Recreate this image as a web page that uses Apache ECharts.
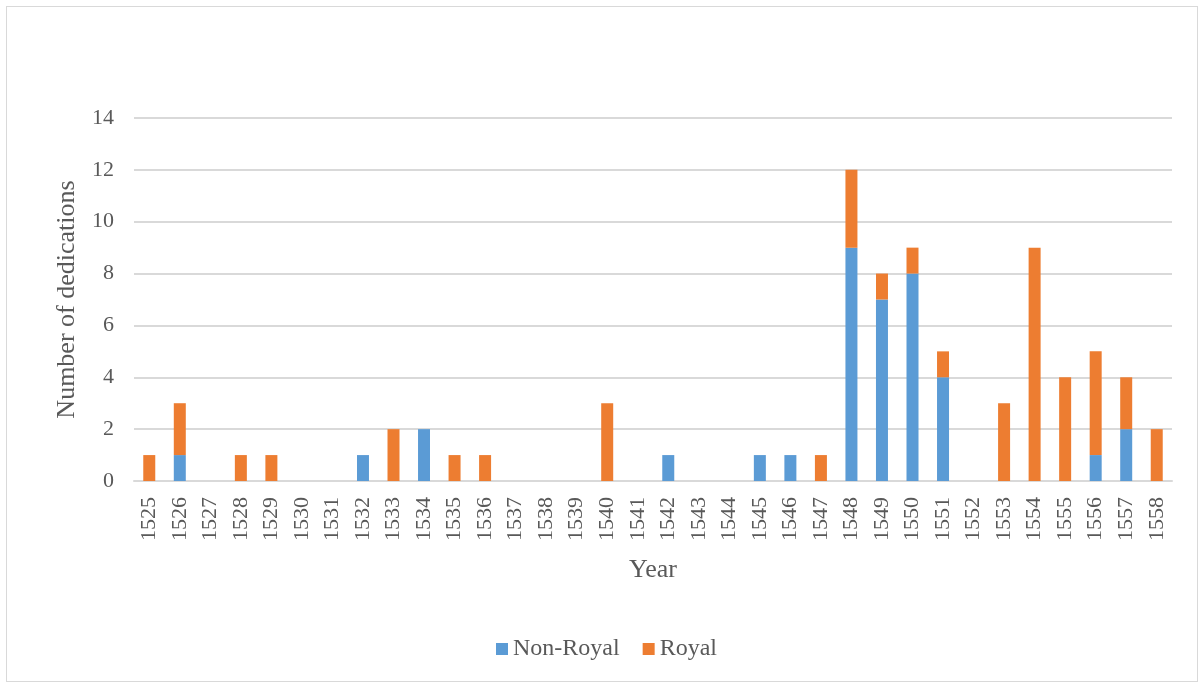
<!DOCTYPE html>
<html>
<head>
<meta charset="utf-8">
<script src="https://cdn.jsdelivr.net/npm/echarts@6/dist/echarts.min.js"></script>
<style>
  html, body { margin: 0; padding: 0; background: #fff; }
  #frame { position: absolute; left: 6px; top: 6px; width: 1192px; height: 676px; border: 1px solid #d9d9d9; box-sizing: border-box; }
  #chart { position: absolute; left: 0; top: 0; width: 1201px; height: 684px; }
</style>
</head>
<body>
<div id="frame"></div>
<div id="chart"></div>
<script>
// Dedications per year, split by recipient type
const years = ['1525','1526','1527','1528','1529','1530','1531','1532','1533','1534',
  '1535','1536','1537','1538','1539','1540','1541','1542','1543','1544','1545','1546',
  '1547','1548','1549','1550','1551','1552','1553','1554','1555','1556','1557','1558'];
const nonRoyal = [0,1,0,0,0,0,0,1,0,2, 0,0,0,0,0,0,0,1,0,0,1,1, 0,9,7,8,4,0,0,0,0,1,2,0];
const royal    = [1,2,0,1,1,0,0,0,2,0, 1,1,0,0,0,3,0,0,0,0,0,0, 1,3,1,1,1,0,3,9,4,4,2,2];
const yTicks = { min: 0, max: 14, interval: 2 };

const font = 'Liberation Serif, Times New Roman, serif';
const textColor = '#595959';
const gridColor = '#d9d9d9';

const chart = echarts.init(document.getElementById('chart'), null, { renderer: 'canvas' });
chart.setOption({
  animation: false,
  textStyle: { fontFamily: font, color: textColor },
  grid: { left: 134, right: 29, top: 118, bottom: 203, containLabel: false },
  legend: {
    bottom: 23,
    left: 496,
    padding: 0,
    itemWidth: 12,
    itemHeight: 12,
    itemGap: 23,
    icon: 'rect',
    textStyle: { fontFamily: font, fontSize: 24, color: textColor },
    data: ['Non-Royal', 'Royal']
  },
  xAxis: {
    type: 'category',
    data: years,
    name: 'Year',
    nameLocation: 'middle',
    nameGap: 76,
    nameTextStyle: { fontFamily: font, fontSize: 26, color: textColor },
    axisLine: { lineStyle: { color: gridColor, width: 2 } },
    axisTick: { show: false },
    axisLabel: { rotate: 90, margin: 16, fontFamily: font, fontSize: 22, color: textColor, interval: 0 }
  },
  yAxis: {
    type: 'value',
    min: yTicks.min,
    max: yTicks.max,
    interval: yTicks.interval,
    name: 'Number of dedications',
    nameLocation: 'middle',
    nameGap: 54,
    nameTextStyle: { fontFamily: font, fontSize: 26, color: textColor },
    axisLine: { show: false },
    axisTick: { show: false },
    axisLabel: { margin: 20, fontFamily: font, fontSize: 22, color: textColor },
    splitLine: { lineStyle: { color: gridColor, width: 2 } }
  },
  series: [
    { name: 'Non-Royal', type: 'bar', stack: 'total', data: nonRoyal, barWidth: 12,
      itemStyle: { color: '#5b9bd5' } },
    { name: 'Royal', type: 'bar', stack: 'total', data: royal, barWidth: 12,
      itemStyle: { color: '#ed7d31' } }
  ]
});
</script>
</body>
</html>
